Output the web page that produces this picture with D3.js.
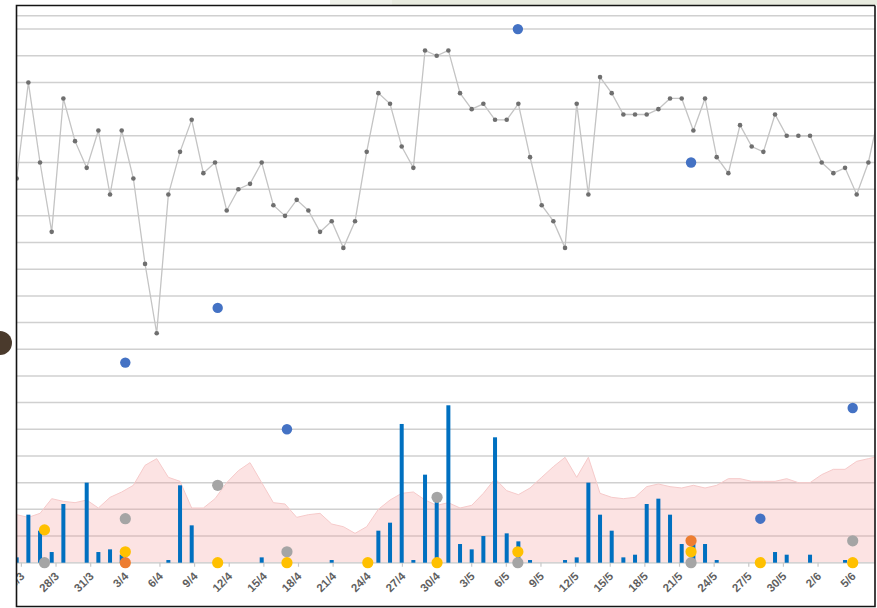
<!DOCTYPE html>
<html lang="en">
  <head>
    <meta charset="UTF-8" />
    <title>Chart</title>
    <style>
      body { margin: 0; background: #fff; }
      svg { display: block; }
    </style>
  </head>
  <body>
    <script src="https://cdn.jsdelivr.net/npm/d3@7"></script>
    <script>
      // line series, one value per day from 25/3
      const lineValues = [
        14.4, 18.0, 15.0, 12.4, 17.4, 15.8, 14.8, 16.2, 13.8, 16.2,
        14.4, 11.2, 8.6, 13.8, 15.4, 16.6, 14.6, 15.0, 13.2, 14.0,
        14.2, 15.0, 13.4, 13.0, 13.6, 13.2, 12.4, 12.8, 11.8, 12.8,
        15.4, 17.6, 17.2, 15.6, 14.8, 19.2, 19.0, 19.2, 17.6, 17.0,
        17.2, 16.6, 16.6, 17.2, 15.2, 13.4, 12.8, 11.8, 17.2, 13.8,
        18.2, 17.6, 16.8, 16.8, 16.8, 17.0, 17.4, 17.4, 16.2, 17.4,
        15.2, 14.6, 16.4, 15.6, 15.4, 16.8, 16.0, 16.0, 16.0, 15.0,
        14.6, 14.8, 13.8, 15.0, 17.0
      ];
      const barValues = [
        0.2, 1.8, 1.2, 0.4, 2.2, 0, 3.0, 0.4, 0.5, 0.3,
        0, 0, 0, 0.1, 2.9, 1.4, 0, 0, 0, 0,
        0, 0.2, 0, 0, 0, 0, 0, 0.1, 0, 0,
        0, 1.2, 1.5, 5.2, 0.1, 3.3, 2.3, 5.9, 0.7, 0.5,
        1.0, 4.7, 1.1, 0.8, 0.1, 0, 0, 0.1, 0.2, 3.0,
        1.8, 1.2, 0.2, 0.3, 2.2, 2.4, 1.8, 0.7, 0.7, 0.7,
        0.1, 0, 0, 0, 0, 0.4, 0.3, 0, 0.3, 0,
        0, 0.1, 0, 0, 0
      ];
      const areaValues = [
        1.8, 1.7, 1.85, 2.4, 2.3, 2.25, 2.35, 2.05, 2.45, 2.65,
        2.9, 3.65, 3.9, 3.2, 3.05, 2.05, 2.05, 2.4, 3.0, 3.45,
        3.75, 3.0, 2.25, 2.2, 1.7, 1.8, 1.85, 1.45, 1.35, 1.1,
        1.35, 2.0, 2.35, 2.6, 2.65, 2.35, 2.15, 2.25, 2.05, 2.15,
        2.6, 3.15, 2.7, 2.55, 2.8, 3.2, 3.6, 3.95, 3.2, 3.95,
        2.6, 2.45, 2.4, 2.45, 2.85, 2.95, 2.85, 2.8, 2.9, 2.8,
        2.9, 3.15, 3.15, 3.05, 3.05, 3.05, 3.15, 3.0, 3.0, 3.3,
        3.5, 3.5, 3.8, 3.9, 4.0
      ];

      // scatter series (day index, value)
      const blueDays = [9, 17, 23, 43, 58, 64, 72];
      const blueValues = [7.5, 9.55, 5.0, 20.0, 15.0, 1.65, 5.8];
      const grayDays = [2, 9, 17, 23, 36, 43, 58, 72];
      const grayValues = [0, 1.65, 2.9, 0.41, 2.45, 0, 0, 0.82];
      const yellowDays = [2, 9, 17, 23, 30, 36, 43, 58, 64, 72];
      const yellowValues = [1.23, 0.41, 0, 0, 0, 0, 0.41, 0.41, 0, 0];
      const orangeDays = [9, 58];
      const orangeValues = [0, 0.82];

      const tickDays = [0, 3, 6, 9, 12, 15, 18, 21, 24, 27, 30, 33, 36, 39, 42, 45, 48, 51, 54, 57, 60, 63, 66, 69, 72, 75];
      const tickLabels = ["25/3", "28/3", "31/3", "3/4", "6/4", "9/4", "12/4", "15/4", "18/4", "21/4", "24/4", "27/4", "30/4",
        "3/5", "6/5", "9/5", "12/5", "15/5", "18/5", "21/5", "24/5", "27/5", "30/5", "2/6", "5/6", "8/6"];
      const gridValues = [0, 1, 2, 3, 4, 5, 6, 7, 8, 9, 10, 11, 12, 13, 14, 15, 16, 17, 18, 19, 20, 20.5];

      let width = 877;
      let height = 608;
      let pLeft = 16.5, pRight = 875, pTop = 5.5, pBottom = 606.5;

      let svg = d3.select("body")
        .append("svg")
        .attr("width", width)
        .attr("height", height);

      // bits of the surrounding screen
      svg.append("rect").attr("x", 330).attr("y", 0).attr("width", 547).attr("height", 5).attr("fill", "#e8ebdf");
      svg.append("rect").attr("x", 330).attr("y", 0).attr("width", 62).attr("height", 5).attr("fill", "#eff1e9");
      svg.append("circle").attr("cx", 0).attr("cy", 343).attr("r", 12).attr("fill", "#4a3a2c");

      svg.append("clipPath").attr("id", "plotclip")
        .append("rect").attr("x", pLeft).attr("y", pTop).attr("width", pRight - pLeft).attr("height", pBottom - pTop);

      let xLine = d3.scaleLinear().domain([0, 72]).range([16.7, 856.7]);
      let xDate = d3.scaleLinear().domain([0, 72]).range([21.4, 852.7]);
      let y = d3.scaleLinear().domain([0, 20]).range([562.7, 29.1]);

      let g = svg.append("g").attr("clip-path", "url(#plotclip)");

      g.selectAll(".grid")
        .data(gridValues)
        .enter()
        .append("line")
        .attr("class", "grid")
        .attr("x1", pLeft).attr("x2", pRight)
        .attr("y1", d => y(d)).attr("y2", d => y(d))
        .attr("stroke", "#d0d0d0")
        .attr("stroke-width", 1.5);

      let area = d3.area()
        .x((d, i) => xLine(i))
        .y0(y(0))
        .y1(d => y(d));

      g.append("path")
        .datum(areaValues)
        .attr("d", area)
        .attr("fill", "#f59a9a")
        .attr("fill-opacity", 0.28);

      g.append("path")
        .datum(areaValues)
        .attr("d", d3.line().x((d, i) => xLine(i)).y(d => y(d)))
        .attr("fill", "none")
        .attr("stroke", "#f6caca")
        .attr("stroke-width", 1);

      // axis line and ticks
      g.append("line")
        .attr("x1", pLeft).attr("x2", pRight)
        .attr("y1", y(0)).attr("y2", y(0))
        .attr("stroke", "#d3d3d3").attr("stroke-width", 1.2);

      g.selectAll(".tick")
        .data(tickDays)
        .enter()
        .append("line")
        .attr("class", "tick")
        .attr("x1", d => xDate(d)).attr("x2", d => xDate(d))
        .attr("y1", y(0)).attr("y2", y(0) + 4)
        .attr("stroke", "#c8c8c8").attr("stroke-width", 1.2);

      g.selectAll(".bar")
        .data(barValues.map((v, i) => ({ v, i })).filter(d => d.v > 0))
        .enter()
        .append("rect")
        .attr("class", "bar")
        .attr("x", d => xLine(d.i) - 2)
        .attr("width", 4)
        .attr("y", d => y(d.v))
        .attr("height", d => y(0) - y(d.v))
        .attr("fill", "#0070c0");

      g.append("path")
        .datum(lineValues)
        .attr("d", d3.line().x((d, i) => xLine(i)).y(d => y(d)))
        .attr("fill", "none")
        .attr("stroke", "#c4c4c4")
        .attr("stroke-width", 1.3);

      g.selectAll(".marker")
        .data(lineValues)
        .enter()
        .append("circle")
        .attr("class", "marker")
        .attr("cx", (d, i) => xLine(i))
        .attr("cy", d => y(d))
        .attr("r", 2.3)
        .attr("fill", "#6f6f6f");

      function dots(days, values, color, r) {
        g.selectAll(null)
          .data(days.map((d, i) => [d, values[i]]))
          .enter()
          .append("circle")
          .attr("cx", d => xDate(d[0]))
          .attr("cy", d => y(d[1]))
          .attr("r", r)
          .attr("fill", color);
      }
      dots(blueDays, blueValues, "#4472c4", 5.2);
      dots(grayDays, grayValues, "#a5a5a5", 5.6);
      dots(yellowDays, yellowValues, "#ffc000", 5.6);
      dots(orangeDays, orangeValues, "#ed7d31", 5.6);

      g.selectAll(".label")
        .data(tickDays)
        .enter()
        .append("text")
        .attr("class", "label")
        .attr("transform", d => `translate(${xDate(d) + 1},574) rotate(-45)`)
        .attr("text-anchor", "end")
        .attr("dy", "0.35em")
        .attr("font-family", "Liberation Sans, Arial, sans-serif")
        .attr("font-size", 11.5)
        .attr("font-weight", "bold")
        .attr("fill", "#5f5f5f")
        .text((d, i) => tickLabels[i]);

      // chart border
      svg.append("path")
        .attr("d", `M${pRight},${pTop}H${pLeft}V${pBottom}H${pRight}V${pTop}`)
        .attr("fill", "none")
        .attr("stroke", "#141414")
        .attr("stroke-width", 1.6);
    </script>
  </body>
</html>
